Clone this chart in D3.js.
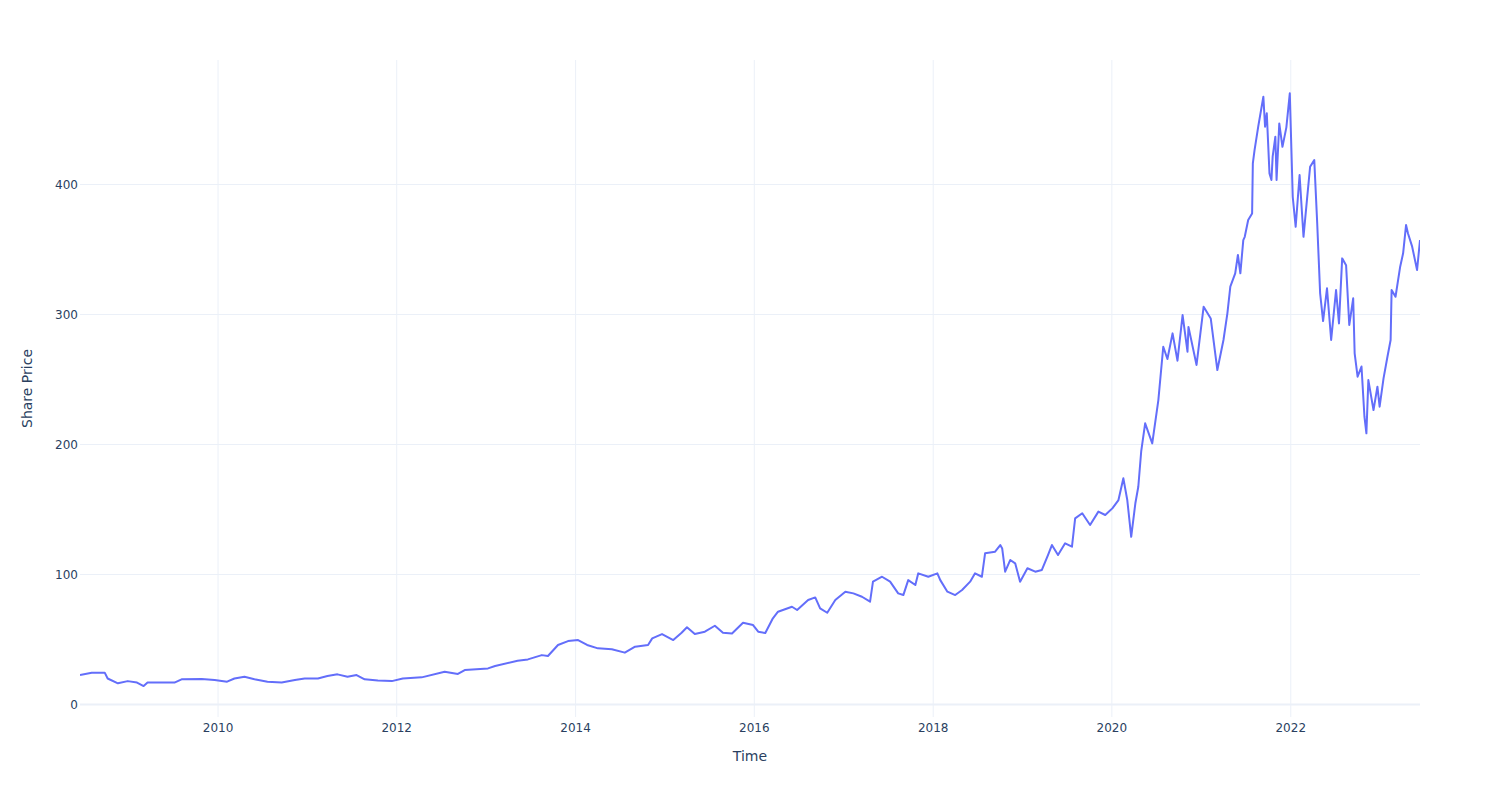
<!DOCTYPE html>
<html>
<head>
<meta charset="utf-8">
<script src="https://cdn.jsdelivr.net/npm/d3@7"></script>
<style>
  body { margin: 0; background: #fff; }
  text { font-family: "DejaVu Sans", Verdana, sans-serif; fill: #2a3f5f; }
</style>
</head>
<body>
<div id="chart"></div>
<script>
'use strict';

// Dates
var dates = [
  '2008-06-16', '2008-08-03', '2008-09-25', '2008-10-07', '2008-11-18', '2008-12-28',
  '2009-02-04', '2009-03-03', '2009-03-19', '2009-05-15', '2009-07-07', '2009-08-05',
  '2009-10-26', '2009-12-18', '2010-02-07', '2010-03-09', '2010-04-19', '2010-05-30',
  '2010-07-22', '2010-09-18', '2010-11-11', '2010-12-21', '2011-02-13', '2011-03-24',
  '2011-05-04', '2011-06-14', '2011-07-21', '2011-08-23', '2011-10-16', '2011-12-12',
  '2012-01-26', '2012-04-12', '2012-07-15', '2012-09-07', '2012-10-05', '2013-01-08',
  '2013-02-06', '2013-05-09', '2013-06-20', '2013-08-16', '2013-09-10', '2013-10-21',
  '2013-12-01', '2014-01-11', '2014-02-17', '2014-04-02', '2014-05-29', '2014-07-21',
  '2014-09-01', '2014-10-24', '2014-11-10', '2014-12-20', '2015-02-04', '2015-03-10',
  '2015-04-01', '2015-05-03', '2015-06-13', '2015-07-24', '2015-08-26', '2015-10-02',
  '2015-11-16', '2015-12-27', '2016-01-17', '2016-02-15', '2016-03-17', '2016-04-07',
  '2016-06-03', '2016-06-24', '2016-08-08', '2016-09-06', '2016-09-26', '2016-10-25',
  '2016-11-27', '2017-01-07', '2017-02-09', '2017-03-16', '2017-04-18', '2017-04-30',
  '2017-06-06', '2017-07-09', '2017-08-11', '2017-09-01', '2017-09-21', '2017-10-20',
  '2017-11-01', '2017-12-12', '2018-01-18', '2018-01-30', '2018-02-28', '2018-04-01',
  '2018-04-29', '2018-06-01', '2018-06-21', '2018-07-19', '2018-08-01', '2018-09-11',
  '2018-10-02', '2018-10-10', '2018-10-22', '2018-11-12', '2018-12-02', '2018-12-22',
  '2019-01-21', '2019-02-22', '2019-03-21', '2019-04-15', '2019-05-01', '2019-05-26',
  '2019-06-24', '2019-07-22', '2019-08-04', '2019-09-02', '2019-10-04', '2019-11-07',
  '2019-12-05', '2020-01-03', '2020-01-28', '2020-02-17', '2020-03-04', '2020-03-20',
  '2020-04-06', '2020-04-18', '2020-04-30', '2020-05-16', '2020-06-14', '2020-07-09',
  '2020-07-29', '2020-08-15', '2020-09-05', '2020-09-25', '2020-10-16', '2020-11-05',
  '2020-11-09', '2020-12-12', '2021-01-10', '2021-02-08', '2021-03-07', '2021-04-01',
  '2021-04-17', '2021-04-29', '2021-05-19', '2021-05-30', '2021-06-09', '2021-06-21',
  '2021-06-27', '2021-07-11', '2021-07-27', '2021-07-30', '2021-08-06', '2021-08-21',
  '2021-09-11', '2021-09-18', '2021-09-25', '2021-10-06', '2021-10-14', '2021-10-19',
  '2021-10-30', '2021-11-04', '2021-11-15', '2021-11-28', '2021-12-14', '2021-12-28',
  '2022-01-09', '2022-01-21', '2022-02-06', '2022-02-22', '2022-03-08', '2022-03-21',
  '2022-04-07', '2022-04-19', '2022-05-01', '2022-05-13', '2022-05-29', '2022-06-15',
  '2022-07-05', '2022-07-17', '2022-07-30', '2022-08-15', '2022-08-28', '2022-09-13',
  '2022-09-19', '2022-10-01', '2022-10-17', '2022-10-29', '2022-11-06', '2022-11-14',
  '2022-12-05', '2022-12-21', '2022-12-30', '2023-01-15', '2023-01-31', '2023-02-13',
  '2023-02-17', '2023-03-05', '2023-03-24', '2023-04-05', '2023-04-17', '2023-04-25',
  '2023-05-12', '2023-06-01', '2023-06-13'
];

// Share price at each date
var prices = [
  22.7, 24.5, 24.5, 20.0, 16.3, 18.0,
  16.9, 14.2, 16.9, 16.9, 16.9, 19.4,
  19.7, 18.8, 17.6, 20.0, 21.4, 19.4,
  17.6, 16.9, 18.8, 20.0, 20.0, 21.9,
  23.2, 21.4, 22.7, 19.4, 18.4, 18.0,
  20.0, 20.9, 25.2, 23.5, 26.5, 27.8,
  29.6, 33.7, 34.7, 38.0, 37.3, 45.8,
  48.8, 49.6, 45.8, 43.2, 42.5, 39.9,
  44.5, 45.8, 50.9, 54.2, 49.6, 55.2,
  59.4, 54.2, 56.0, 60.6, 55.2, 54.7,
  62.9, 61.1, 56.0, 55.0, 66.3, 71.4,
  75.2, 72.7, 80.4, 82.4, 74.0, 70.6,
  80.4, 86.8, 85.5, 82.9, 79.1, 94.5,
  98.3, 94.5, 85.5, 84.2, 95.7, 91.9,
  100.9, 98.3, 100.9, 95.7, 86.8, 84.2,
  88.1, 94.5, 100.9, 98.3, 116.3, 117.6,
  122.7, 120.0, 102.2, 111.2, 108.6, 94.5,
  104.8, 102.2, 103.5, 115.0, 122.7, 115.0,
  124.0, 121.4, 143.2, 147.1, 138.1, 148.4,
  145.8, 150.9, 157.3, 174.0, 157.3, 129.0,
  154.8, 167.5, 195.0, 216.3, 200.9, 234.2,
  275.2, 265.8, 285.5, 264.5, 299.6, 271.4,
  290.5, 261.2, 306.0, 297.0, 257.3, 280.4,
  300.9, 321.4, 331.7, 345.8, 331.7, 357.3,
  359.8, 372.7, 377.8, 416.3, 426.5, 444.5,
  467.5, 444.5, 454.8, 408.6, 403.5, 421.5,
  436.8, 403.5, 447.0, 429.0, 444.0, 470.2,
  390.6, 367.5, 407.3, 359.8, 388.0, 413.7,
  418.8, 370.2, 316.3, 295.0, 320.2, 280.4,
  318.8, 293.2, 343.2, 338.0, 291.9, 312.5,
  270.2, 252.2, 260.0, 221.4, 208.6, 249.6,
  226.5, 244.5, 229.1, 250.9, 267.5, 280.4,
  318.8, 313.7, 336.8, 347.1, 368.8, 362.3,
  352.2, 334.2, 357.3
];

var yTicks = [0, 100, 200, 300, 400];
var xTickYears = [2010, 2012, 2014, 2016, 2018, 2020, 2022];

var width = 1500,
  height = 800,
  margin = {top: 60, right: 80, bottom: 83, left: 80},
  parse = d3.timeParse('%Y-%m-%d'),
  data,
  svg,
  g,
  x,
  y,
  line;

data = dates.map(function (d, i) {
  return {date: parse(d), price: prices[i]};
});

// Scales
x = d3.scaleTime()
  .domain(d3.extent(data, function (d) { return d.date; }))
  .range([margin.left, width - margin.right]);

y = d3.scaleLinear()
  .domain([-9.6, 495.8])
  .range([height - margin.bottom, margin.top]);

svg = d3.select('#chart').append('svg')
  .attr('width', width)
  .attr('height', height);

svg.append('defs').append('clipPath')
  .attr('id', 'plotClip')
  .append('rect')
  .attr('x', margin.left)
  .attr('y', margin.top)
  .attr('width', width - margin.left - margin.right)
  .attr('height', height - margin.top - margin.bottom);

g = svg.append('g');

// Vertical grid
g.selectAll('.xgrid')
  .data(xTickYears)
  .enter().append('line')
  .attr('class', 'xgrid')
  .attr('x1', function (d) { return x(new Date(d, 0, 1)); })
  .attr('x2', function (d) { return x(new Date(d, 0, 1)); })
  .attr('y1', margin.top)
  .attr('y2', height - margin.bottom)
  .style('stroke', '#EBF0F8')
  .style('stroke-width', 1);

// Horizontal grid (zero line thicker, like plotly)
g.selectAll('.ygrid')
  .data(yTicks)
  .enter().append('line')
  .attr('class', 'ygrid')
  .attr('x1', margin.left)
  .attr('x2', width - margin.right)
  .attr('y1', function (d) { return y(d); })
  .attr('y2', function (d) { return y(d); })
  .style('stroke', '#EBF0F8')
  .style('stroke-width', function (d) { return d === 0 ? 2 : 1; });

// Tick labels
g.selectAll('.ylabel')
  .data(yTicks)
  .enter().append('text')
  .attr('class', 'ylabel')
  .attr('x', margin.left - 2)
  .attr('y', function (d) { return y(d); })
  .attr('dy', '0.35em')
  .attr('text-anchor', 'end')
  .style('font-size', '12px')
  .text(String);

g.selectAll('.xlabel')
  .data(xTickYears)
  .enter().append('text')
  .attr('class', 'xlabel')
  .attr('x', function (d) { return x(new Date(d, 0, 1)); })
  .attr('y', height - margin.bottom + 15)
  .attr('text-anchor', 'middle')
  .style('font-size', '12px')
  .text(String);

// Axis titles
svg.append('text')
  .attr('x', (margin.left + width - margin.right) / 2)
  .attr('y', 761)
  .attr('text-anchor', 'middle')
  .style('font-size', '14px')
  .text('Time');

svg.append('text')
  .attr('transform', 'translate(32,' + ((margin.top + height - margin.bottom) / 2) + ') rotate(-90)')
  .attr('text-anchor', 'middle')
  .style('font-size', '14px')
  .text('Share Price');

// Price line
line = d3.line()
  .x(function (d) { return x(d.date); })
  .y(function (d) { return y(d.price); });

svg.append('path')
  .datum(data)
  .attr('clip-path', 'url(#plotClip)')
  .attr('d', line)
  .style('fill', 'none')
  .style('stroke', '#636efa')
  .style('stroke-width', 2)
  .style('stroke-linejoin', 'round');
</script>
</body>
</html>
